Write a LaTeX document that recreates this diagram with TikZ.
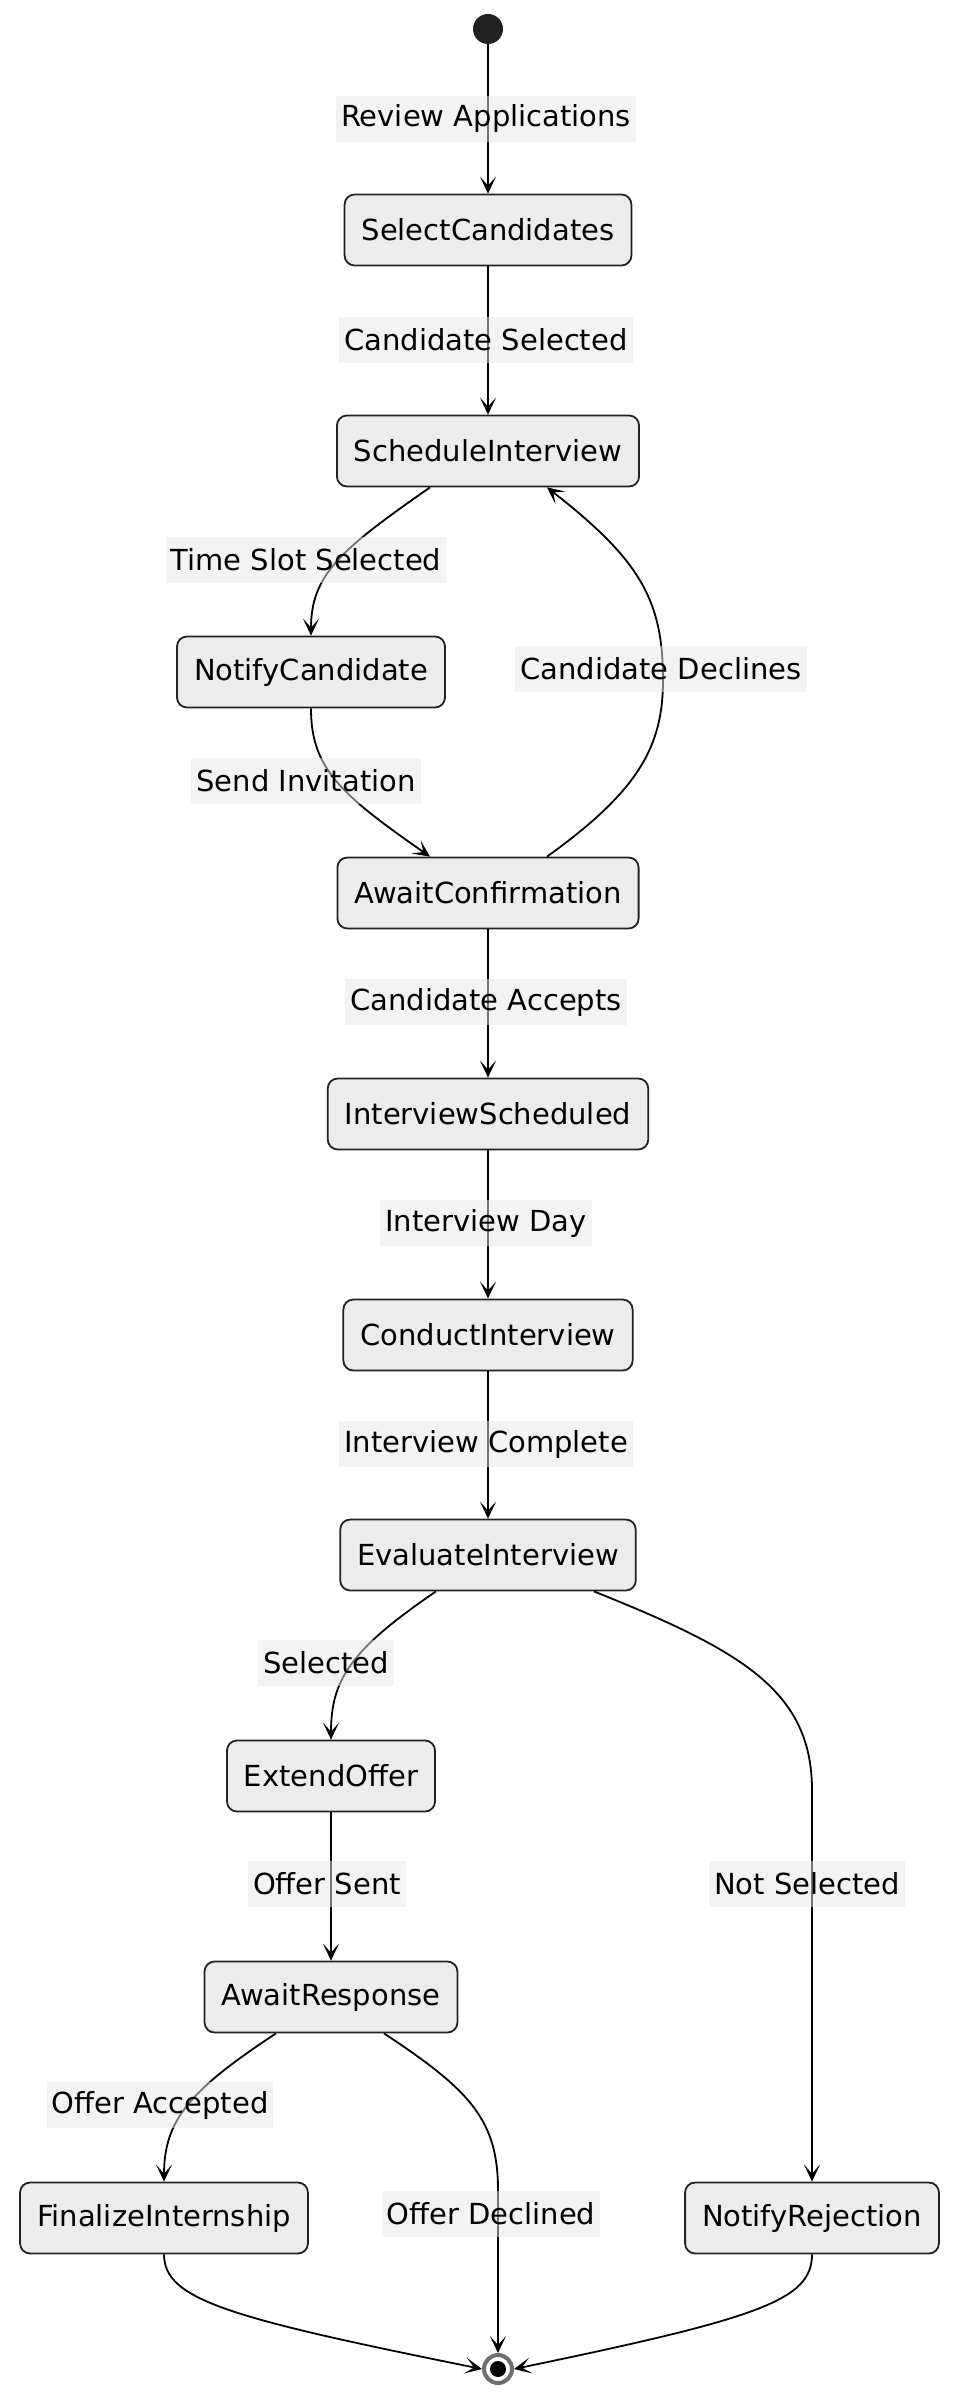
\documentclass[tikz,border=0pt]{standalone}
\usepackage{fontspec}
\setmainfont{DejaVu Sans}
\usetikzlibrary{arrows.meta}
\definecolor{boxfill}{RGB}{236,236,236}
\definecolor{boxline}{RGB}{34,34,34}
\definecolor{lblfill}{RGB}{232,232,232}
\definecolor{ringcol}{RGB}{110,110,110}
\definecolor{startcol}{RGB}{34,34,34}
\begin{document}
\begin{tikzpicture}[x=1pt,y=-1pt,
  every node/.style={font=\fontsize{29}{34}\selectfont},
  state/.style={draw=boxline, line width=1.8pt, fill=boxfill, rounded corners=10pt,
    minimum height=71pt, inner xsep=17pt, inner ysep=0pt},
  lbl/.style={fill=lblfill, fill opacity=0.5, text opacity=1, minimum height=46pt,
    inner xsep=5pt, inner ysep=0pt},
  edge/.style={draw=black, line width=1.8pt, -{Stealth[length=17pt,width=16pt,inset=9pt]}},
]
\useasboundingbox (0,0) rectangle (960,2400);

% states
\node[circle, fill=startcol, minimum size=30pt, inner sep=0pt] (start) at (488,29) {};
\node[state] (sel) at (488,230) {SelectCandidates};
\node[state] (sch) at (488,451) {ScheduleInterview};
\node[state] (not) at (311,672) {NotifyCandidate};
\node[state] (awc) at (488,893) {AwaitConfirmation};
\node[state] (isch) at (488,1114) {InterviewScheduled};
\node[state] (cond) at (488,1335) {ConductInterview};
\node[state] (eval) at (488,1555) {EvaluateInterview};
\node[state] (ext) at (331,1776) {ExtendOffer};
\node[state] (awr) at (331,1997) {AwaitResponse};
\node[state] (fin) at (164,2218) {FinalizeInternship};
\node[state] (rej) at (812,2218) {NotifyRejection};
\node[circle, draw=ringcol, line width=4pt, fill=white, minimum size=28pt, inner sep=0pt] (end) at (498,2369) {};
\fill[black] (end.center) circle (8pt);

% edges
\draw[edge] (start) -- (sel);
\draw[edge] (sel) -- (sch);
\draw[edge] ([xshift=-58pt]sch.south) .. controls (340,550) and (311,575) .. (not.north);
\draw[edge] (not.south) .. controls (311,768) and (340,794) .. ([xshift=-58pt]awc.north);
\draw[edge] ([xshift=59pt]awc.north) .. controls (640,790) and (663,745) .. (663,680)
  .. controls (663,600) and (640,560) .. ([xshift=59pt]sch.south);
\draw[edge] (awc) -- (isch);
\draw[edge] (isch) -- (cond);
\draw[edge] (cond) -- (eval);
\draw[edge] ([xshift=-52pt]eval.south) .. controls (350,1650) and (331,1680) .. (ext.north);
\draw[edge] ([xshift=106pt]eval.south) .. controls (740,1650) and (812,1690) .. (812,1790) -- (rej.north);
\draw[edge] (ext) -- (awr);
\draw[edge] ([xshift=-55pt]awr.south) .. controls (190,2090) and (164,2120) .. (fin.north);
\draw[edge] ([xshift=53pt]awr.south) .. controls (470,2090) and (498,2120) .. (498,2190) -- (end.north);
\draw[edge] (fin.south) .. controls (164,2300) and (230,2318) .. (end.west);
\draw[edge] (rej.south) .. controls (812,2300) and (760,2318) .. (end.east);

% labels
\node[lbl] (l1) at (486,119) {Review Applications};
\node[lbl] (l2) at (486,340) {Candidate Selected};
\node[lbl] (l3) at (306,560) {Time Slot Selected};
\node[lbl] (l4) at (661,669) {Candidate Declines};
\node[lbl] (l5) at (306,781) {Send Invitation};
\node[lbl] (l6) at (486,1002) {Candidate Accepts};
\node[lbl] (l7) at (486,1223) {Interview Day};
\node[lbl] (l8) at (486,1444) {Interview Complete};
\node[lbl] (l9) at (326,1663) {Selected};
\node[lbl] (l10) at (327,1884) {Offer Sent};
\node[lbl] (l11) at (807,1884) {Not Selected};
\node[lbl] (l12) at (160,2105) {Offer Accepted};
\node[lbl] (l13) at (491,2214) {Offer Declined};
\end{tikzpicture}
\end{document}
